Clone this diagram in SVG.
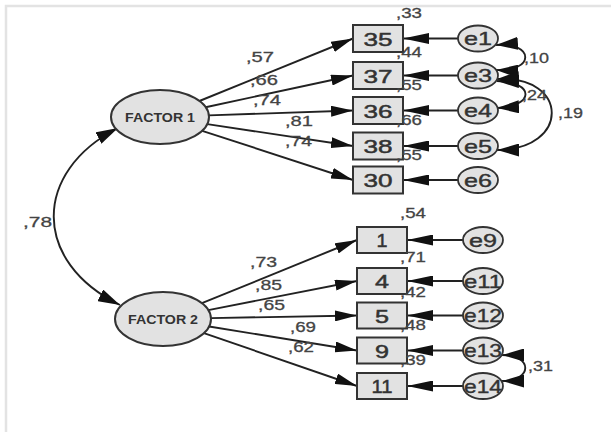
<svg xmlns="http://www.w3.org/2000/svg" width="611" height="432" viewBox="0 0 611 432">
  <style>
    .frame { stroke: #e3e3e3; stroke-width: 2.5; fill: none; }
    .latent { fill: #e2e2e2; stroke: #333; stroke-width: 2; }
    .obs { fill: #e2e2e2; stroke: #333; stroke-width: 2; }
    .err { fill: #e2e2e2; stroke: #333; stroke-width: 1.8; }
    .ftxt { font-family: "Liberation Sans", Arial, sans-serif; font-weight: bold; font-size: 13.5px; fill: #333; text-anchor: middle; }
    .otxt { font-family: "Liberation Sans", Arial, sans-serif; font-size: 19px; fill: #333; stroke: #333; stroke-width: 0.5; text-anchor: middle; }
    .etxt { font-family: "Liberation Sans", Arial, sans-serif; font-size: 18.5px; fill: #333; stroke: #333; stroke-width: 0.4; text-anchor: middle; }
    .num { font-family: "Liberation Sans", Arial, sans-serif; font-size: 15px; fill: #444; stroke: #444; stroke-width: 0.3; }
    .path { stroke: #222; stroke-width: 1.9; fill: none; marker-end: url(#head); }
    .epath { stroke: #222; stroke-width: 1.9; fill: none; marker-end: url(#headLong); }
    .cov { stroke: #222; stroke-width: 1.9; fill: none; marker-start: url(#headCov); marker-end: url(#headCov); }
  </style>
  <defs>
    <marker id="head" markerUnits="userSpaceOnUse" viewBox="0 0 22 11" markerWidth="22" markerHeight="11" refX="22" refY="5.5" orient="auto">
      <path d="M0,0 L22,5.5 L0,11 z" fill="#111"/>
    </marker>
    <marker id="headLong" markerUnits="userSpaceOnUse" viewBox="0 0 26 11" markerWidth="26" markerHeight="11" refX="26" refY="5.5" orient="auto">
      <path d="M0,0 L26,5.5 L0,11 z" fill="#111"/>
    </marker>
    <marker id="headCov" markerUnits="userSpaceOnUse" viewBox="0 0 22 13" markerWidth="22" markerHeight="13" refX="22" refY="6.5" orient="auto-start-reverse">
      <path d="M0,0 L22,6.5 L0,13 z" fill="#111"/>
    </marker>
  </defs>

  <rect width="611" height="432" fill="#fff"/>
  <path class="frame" d="M611,6 L6,6 L6,432"/>

  <!-- connectors -->
  <g id="connectors">
    <!-- factor covariance -->
    <path class="cov" d="M118,128 C32,172 32,262 120,305"/>
    <!-- FACTOR 1 loadings -->
    <path class="path" d="M199.4,101 L353,38.5"/>
    <path class="path" d="M205.6,107.2 L353,75.5"/>
    <path class="path" d="M208.9,115.4 L353,110.5"/>
    <path class="path" d="M207.3,124.1 L353,146"/>
    <path class="path" d="M202.2,130.8 L353,180"/>
    <!-- FACTOR 2 loadings -->
    <path class="path" d="M201.9,303.2 L357,240"/>
    <path class="path" d="M208.3,310.1 L357,281"/>
    <path class="path" d="M211,318.1 L357,315.5"/>
    <path class="path" d="M209.1,326.5 L357,350.5"/>
    <path class="path" d="M203.9,333.1 L357,386"/>
    <!-- error terms -->
    <path class="epath" d="M458,38.5 L403,38.5"/>
    <path class="epath" d="M458,75.5 L403,75.5"/>
    <path class="epath" d="M458,110.5 L403,110.5"/>
    <path class="epath" d="M458,146 L403,146"/>
    <path class="epath" d="M458,180 L403,180"/>
    <path class="epath" d="M463,240 L407,240"/>
    <path class="epath" d="M463,281 L407,281"/>
    <path class="epath" d="M463,315.5 L407,315.5"/>
    <path class="epath" d="M463,350.5 L407,350.5"/>
    <path class="epath" d="M463,386 L407,386"/>
    <!-- error covariances -->
    <path class="cov" d="M496,45 C535,42 535,72 496,70"/>
    <path class="cov" d="M497,81 C535,82 535,106 497,108"/>
    <path class="cov" d="M497,79 C570,75 570,150 497,150"/>
    <path class="cov" d="M502,355 C533,355 533,381 502,381"/>
  </g>

  <!-- latent factors -->
  <g id="factor1">
    <ellipse class="latent" cx="160" cy="117" rx="49" ry="27"/>
    <text class="ftxt" x="160" y="122" textLength="70" lengthAdjust="spacingAndGlyphs">FACTOR 1</text>
  </g>
  <g id="factor2">
    <ellipse class="latent" cx="163" cy="319" rx="48" ry="27"/>
    <text class="ftxt" x="163" y="324" textLength="70" lengthAdjust="spacingAndGlyphs">FACTOR 2</text>
  </g>

  <!-- observed items -->
  <g id="item35"><rect class="obs" x="353" y="25" width="50" height="27"/><text class="otxt" x="378" y="45.5" textLength="29" lengthAdjust="spacingAndGlyphs">35</text></g>
  <g id="item37"><rect class="obs" x="353" y="62" width="50" height="27"/><text class="otxt" x="378" y="82.5" textLength="29" lengthAdjust="spacingAndGlyphs">37</text></g>
  <g id="item36"><rect class="obs" x="353" y="97" width="50" height="27"/><text class="otxt" x="378" y="117.5" textLength="29" lengthAdjust="spacingAndGlyphs">36</text></g>
  <g id="item38"><rect class="obs" x="353" y="132.5" width="50" height="27"/><text class="otxt" x="378" y="153" textLength="29" lengthAdjust="spacingAndGlyphs">38</text></g>
  <g id="item30"><rect class="obs" x="353" y="166.5" width="50" height="27"/><text class="otxt" x="378" y="187" textLength="29" lengthAdjust="spacingAndGlyphs">30</text></g>
  <g id="item1"><rect class="obs" x="357" y="227" width="50" height="26"/><text class="otxt" x="382" y="247" textLength="11" lengthAdjust="spacingAndGlyphs">1</text></g>
  <g id="item4"><rect class="obs" x="357" y="268" width="50" height="26"/><text class="otxt" x="382" y="288" textLength="14" lengthAdjust="spacingAndGlyphs">4</text></g>
  <g id="item5"><rect class="obs" x="357" y="302.5" width="50" height="26"/><text class="otxt" x="382" y="322.5" textLength="14" lengthAdjust="spacingAndGlyphs">5</text></g>
  <g id="item9"><rect class="obs" x="357" y="337.5" width="50" height="26"/><text class="otxt" x="382" y="357.5" textLength="14" lengthAdjust="spacingAndGlyphs">9</text></g>
  <g id="item11"><rect class="obs" x="357" y="373" width="50" height="26"/><text class="otxt" x="382" y="393" textLength="21" lengthAdjust="spacingAndGlyphs">11</text></g>

  <!-- error terms -->
  <g id="e1"><ellipse class="err" cx="478" cy="38.5" rx="20" ry="13"/><text class="etxt" x="478" y="45" textLength="28" lengthAdjust="spacingAndGlyphs">e1</text></g>
  <g id="e3"><ellipse class="err" cx="478" cy="75.5" rx="20" ry="13"/><text class="etxt" x="478" y="82" textLength="28" lengthAdjust="spacingAndGlyphs">e3</text></g>
  <g id="e4"><ellipse class="err" cx="478" cy="110.5" rx="20" ry="13"/><text class="etxt" x="478" y="117" textLength="28" lengthAdjust="spacingAndGlyphs">e4</text></g>
  <g id="e5"><ellipse class="err" cx="478" cy="146" rx="20" ry="13"/><text class="etxt" x="478" y="152.5" textLength="28" lengthAdjust="spacingAndGlyphs">e5</text></g>
  <g id="e6"><ellipse class="err" cx="478" cy="180" rx="20" ry="13"/><text class="etxt" x="478" y="186.5" textLength="28" lengthAdjust="spacingAndGlyphs">e6</text></g>
  <g id="e9"><ellipse class="err" cx="483" cy="240" rx="20" ry="13"/><text class="etxt" x="483" y="246.5" textLength="28" lengthAdjust="spacingAndGlyphs">e9</text></g>
  <g id="e11"><ellipse class="err" cx="483" cy="281" rx="20" ry="13"/><text class="etxt" x="483" y="287.5" textLength="38" lengthAdjust="spacingAndGlyphs">e11</text></g>
  <g id="e12"><ellipse class="err" cx="483" cy="315.5" rx="20" ry="13"/><text class="etxt" x="483" y="322" textLength="38" lengthAdjust="spacingAndGlyphs">e12</text></g>
  <g id="e13"><ellipse class="err" cx="483" cy="350.5" rx="20" ry="13"/><text class="etxt" x="483" y="357" textLength="38" lengthAdjust="spacingAndGlyphs">e13</text></g>
  <g id="e14"><ellipse class="err" cx="483" cy="386" rx="20" ry="13"/><text class="etxt" x="483" y="392.5" textLength="38" lengthAdjust="spacingAndGlyphs">e14</text></g>

  <!-- estimates -->
  <g id="estimates">
    <text class="num" x="23" y="227" textLength="29" lengthAdjust="spacingAndGlyphs">,78</text>
    <text class="num" x="246" y="62" textLength="28" lengthAdjust="spacingAndGlyphs">,57</text>
    <text class="num" x="250" y="85" textLength="28" lengthAdjust="spacingAndGlyphs">,66</text>
    <text class="num" x="253" y="105" textLength="28" lengthAdjust="spacingAndGlyphs">,74</text>
    <text class="num" x="285" y="126" textLength="28" lengthAdjust="spacingAndGlyphs">,81</text>
    <text class="num" x="285" y="146" textLength="27" lengthAdjust="spacingAndGlyphs">,74</text>
    <text class="num" x="250" y="267" textLength="27" lengthAdjust="spacingAndGlyphs">,73</text>
    <text class="num" x="255" y="290" textLength="27" lengthAdjust="spacingAndGlyphs">,85</text>
    <text class="num" x="258" y="310" textLength="27" lengthAdjust="spacingAndGlyphs">,65</text>
    <text class="num" x="290" y="332" textLength="26" lengthAdjust="spacingAndGlyphs">,69</text>
    <text class="num" x="288" y="352" textLength="26" lengthAdjust="spacingAndGlyphs">,62</text>
    <text class="num" x="396" y="18" textLength="26" lengthAdjust="spacingAndGlyphs">,33</text>
    <text class="num" x="396" y="57" textLength="26" lengthAdjust="spacingAndGlyphs">,44</text>
    <text class="num" x="396" y="90" textLength="26" lengthAdjust="spacingAndGlyphs">,55</text>
    <text class="num" x="396" y="125" textLength="26" lengthAdjust="spacingAndGlyphs">,66</text>
    <text class="num" x="396" y="160" textLength="26" lengthAdjust="spacingAndGlyphs">,55</text>
    <text class="num" x="400" y="218" textLength="26" lengthAdjust="spacingAndGlyphs">,54</text>
    <text class="num" x="400" y="262" textLength="26" lengthAdjust="spacingAndGlyphs">,71</text>
    <text class="num" x="400" y="297" textLength="26" lengthAdjust="spacingAndGlyphs">,42</text>
    <text class="num" x="400" y="330" textLength="26" lengthAdjust="spacingAndGlyphs">,48</text>
    <text class="num" x="400" y="365" textLength="26" lengthAdjust="spacingAndGlyphs">,39</text>
    <text class="num" x="524" y="63" textLength="25" lengthAdjust="spacingAndGlyphs">,10</text>
    <text class="num" x="522" y="100" textLength="25" lengthAdjust="spacingAndGlyphs">,24</text>
    <text class="num" x="558" y="118" textLength="25" lengthAdjust="spacingAndGlyphs">,19</text>
    <text class="num" x="528" y="371" textLength="25" lengthAdjust="spacingAndGlyphs">,31</text>
  </g>
</svg>
